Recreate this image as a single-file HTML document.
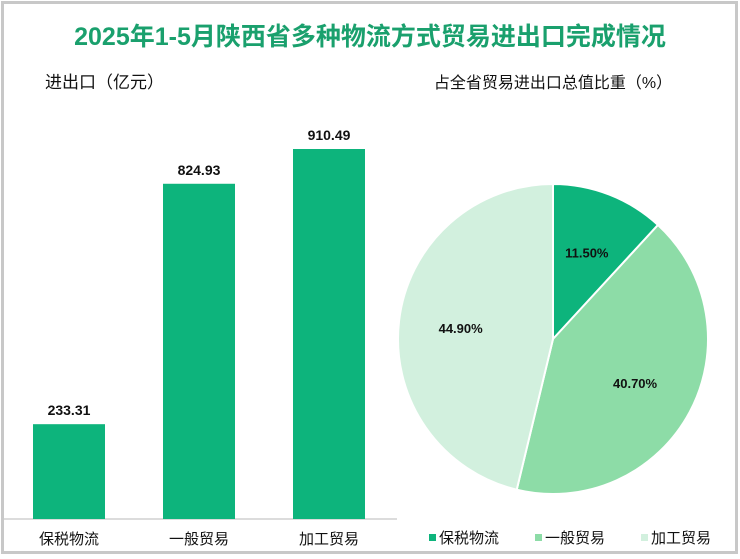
<!DOCTYPE html>
<html><head><meta charset="utf-8"><style>
body{margin:0;background:#fff;font-family:"Liberation Sans","Noto Sans CJK SC",sans-serif}
#c{position:relative;width:740px;height:559px;overflow:hidden}
</style></head><body>
<div id="c">
<svg id="s" width="740" height="559" xmlns="http://www.w3.org/2000/svg">
<rect x="2.5" y="2.5" width="734" height="550" fill="#fff" stroke="#c8c8c8" stroke-width="3"/>
<text x="370" y="45" text-anchor="middle" font-size="25" font-weight="bold" fill="#1aa06d">2025年1-5月陕西省多种物流方式贸易进出口完成情况</text>
<text x="45" y="88" font-size="17" fill="#111">进出口（亿元）</text>
<text x="553" y="88" text-anchor="middle" font-size="16" fill="#111">占全省贸易进出口总值比重（%）</text>
<line x1="4" y1="519" x2="397" y2="519" stroke="#d0d0d0" stroke-width="1.5"/>
<g id="bars"></g><g id="pie"></g><g id="legend"></g>
</svg>
<script>
const categories=["保税物流","一般贸易","加工贸易"];
const barValues=[233.31,824.93,910.49];
const pieValues=[11.5,40.7,44.9];
const pieLabels=["11.50%","40.70%","44.90%"];
const NS="http://www.w3.org/2000/svg";
const colors=["#0db47c","#8ddca7","#d2f0de"];
const svg=document.getElementById('s');
function mk(t,a,p){const e=document.createElementNS(NS,t);for(const k in a)e.setAttribute(k,a[k]);p.appendChild(e);return e;}
const base=519,scale=370/910.49;
function y(v){return base-v*scale;}
function xc(i){return 69+i*130;}
const bg=document.getElementById('bars');
categories.forEach((c,i)=>{
 const r=mk('rect',{x:xc(i)-36,y:y(barValues[i]),width:72,height:base-y(barValues[i]),fill:"#0db47c"},bg);
 
 
 const t=mk('text',{x:xc(i),y:y(barValues[i])-9,'text-anchor':'middle','font-size':14,'font-weight':'bold',fill:'#111'},bg);t.textContent=barValues[i].toFixed(2);
 
 
 const l=mk('text',{x:xc(i),y:544,'text-anchor':'middle','font-size':15,fill:'#111'},bg);l.textContent=c;
 
 
});
const pg=document.getElementById('pie');
const cx=553,cy=339,R=155,tot=pieValues.reduce((a,b)=>a+b,0);
let a0=0;
pieValues.forEach((v,i)=>{
 const a1=a0+v/tot*2*Math.PI;
 const p=(a)=>[cx+R*Math.sin(a),cy-R*Math.cos(a)];
 const [x0,y0]=p(a0),[x1,y1]=p(a1);
 const path=mk('path',{d:`M${cx},${cy}L${x0},${y0}A${R},${R} 0 ${a1-a0>Math.PI?1:0} 1 ${x1},${y1}Z`,fill:colors[i],stroke:'#fff','stroke-width':2},pg);
 
 
 const am=(a0+a1)/2,lr=R*0.6;
 const t=mk('text',{x:cx+lr*Math.sin(am),y:cy-lr*Math.cos(am)+5,'text-anchor':'middle','font-size':13,'font-weight':'bold',fill:'#111'},pg);t.textContent=pieLabels[i];
 
 
 a0=a1;
});
const lg=document.getElementById('legend');
categories.forEach((c,i)=>{
 const lx=429+i*106;
 const r=mk('rect',{x:lx,y:534,width:7,height:7,fill:colors[i]},lg);
 
 
 const t=mk('text',{x:lx+10,y:543,'font-size':15,fill:'#111'},lg);t.textContent=c;
 
 
});
</script>
</div></body></html>
